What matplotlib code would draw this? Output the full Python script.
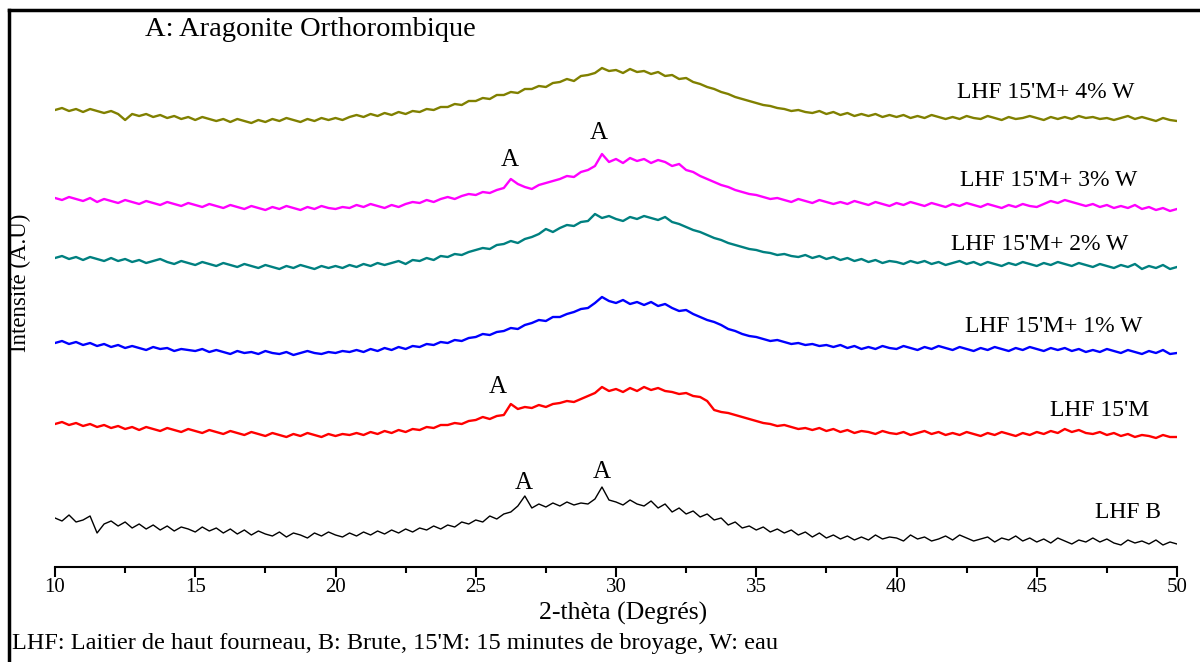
import matplotlib
matplotlib.use("Agg")
import matplotlib.pyplot as plt
from matplotlib.lines import Line2D
from matplotlib.ticker import MultipleLocator
import numpy as np

plt.rcParams['font.family'] = ['Liberation Serif', 'DejaVu Serif']

# 2-theta grid, 0.25 deg steps from 10 to 50
two_theta = np.arange(10, 50.001, 0.25)

# intensities (arbitrary units, already stacked)
olive_4w = [490, 492, 489, 491, 488, 491, 489, 487, 489, 486, 480, 486, 484, 486, 483, 485,
            482, 484, 481, 483, 480, 483, 481, 479, 481, 478, 481, 479, 477, 480, 478, 481,
            479, 482, 480, 478, 481, 479, 482, 480, 482, 480, 483, 485, 483, 486, 484, 487,
            485, 488, 486, 489, 488, 491, 490, 493, 493, 496, 495, 499, 499, 502, 501, 505,
            505, 508, 507, 511, 511, 514, 513, 517, 518, 521, 519, 524, 525, 527, 532, 529,
            530, 527, 531, 528, 529, 526, 528, 524, 525, 521, 522, 518, 516, 513, 511, 508,
            506, 503, 501, 499, 497, 495, 494, 492, 491, 489, 490, 488, 487, 489, 486, 488,
            485, 487, 484, 486, 484, 486, 483, 485, 483, 485, 482, 484, 482, 485, 483, 481,
            483, 481, 484, 482, 481, 484, 482, 480, 483, 481, 482, 484, 482, 480, 483, 481,
            483, 481, 484, 482, 483, 481, 482, 480, 482, 484, 481, 483, 481, 479, 482, 480,
            479]
magenta_3w = [402, 400, 403, 401, 399, 402, 398, 401, 399, 397, 400, 398, 396, 399, 397, 395,
              398, 396, 394, 397, 395, 393, 396, 394, 392, 395, 393, 391, 394, 392, 390, 393,
              391, 394, 392, 390, 393, 391, 394, 392, 391, 393, 392, 395, 393, 396, 394, 392,
              395, 393, 396, 398, 397, 400, 398, 401, 403, 401, 404, 406, 405, 408, 407, 410,
              412, 421, 416, 413, 411, 415, 417, 419, 421, 424, 423, 428, 430, 434, 446, 438,
              441, 437, 442, 439, 441, 437, 440, 438, 434, 436, 430, 428, 424, 421, 418, 415,
              413, 410, 408, 406, 405, 403, 401, 402, 400, 398, 401, 399, 397, 400, 398, 396,
              398, 396, 399, 397, 395, 398, 396, 394, 397, 395, 398, 396, 394, 397, 395, 393,
              396, 394, 397, 395, 393, 396, 394, 392, 395, 393, 396, 394, 393, 396, 399, 397,
              400, 398, 396, 394, 396, 393, 395, 392, 394, 392, 395, 391, 393, 390, 392, 389,
              391]
teal_2w = [342, 344, 341, 343, 340, 343, 341, 339, 342, 339, 341, 338, 340, 337, 339, 341,
           338, 336, 339, 337, 335, 338, 336, 334, 337, 335, 333, 336, 334, 332, 335, 333,
           331, 334, 332, 335, 333, 331, 334, 332, 334, 332, 335, 333, 336, 334, 337, 335,
           337, 339, 336, 340, 339, 342, 340, 344, 343, 346, 345, 348, 350, 352, 351, 355,
           356, 359, 357, 361, 363, 366, 371, 368, 372, 375, 374, 378, 379, 386, 382, 384,
           381, 379, 383, 381, 384, 382, 380, 383, 378, 376, 373, 370, 368, 365, 362, 360,
           357, 355, 353, 351, 350, 348, 347, 345, 346, 344, 343, 345, 342, 344, 341, 343,
           340, 342, 339, 341, 338, 340, 337, 339, 338, 336, 339, 337, 339, 336, 338, 335,
           337, 339, 336, 338, 335, 338, 336, 334, 337, 335, 338, 336, 334, 337, 335, 338,
           336, 334, 337, 335, 333, 336, 334, 332, 335, 333, 336, 331, 334, 332, 335, 331,
           333]
blue_1w = [257, 259, 256, 258, 255, 257, 254, 256, 253, 255, 252, 254, 252, 250, 253, 251,
           252, 249, 251, 250, 249, 251, 248, 250, 248, 246, 249, 247, 248, 246, 249, 247,
           246, 248, 245, 247, 249, 247, 246, 248, 247, 249, 248, 250, 248, 251, 249, 252,
           250, 253, 251, 254, 253, 256, 255, 258, 257, 260, 259, 262, 263, 266, 265, 268,
           269, 272, 271, 275, 277, 280, 279, 283, 283, 286, 288, 291, 292, 297, 303, 299,
           297, 300, 296, 298, 295, 298, 294, 296, 292, 289, 290, 286, 283, 280, 278, 275,
           271, 269, 266, 264, 263, 261, 259, 260, 258, 256, 257, 255, 256, 254, 255, 253,
           255, 252, 254, 251, 253, 251, 254, 252, 251, 254, 252, 250, 253, 251, 254, 252,
           250, 253, 251, 249, 252, 250, 253, 251, 249, 252, 250, 253, 251, 249, 252, 250,
           252, 249, 251, 248, 250, 248, 251, 249, 247, 250, 248, 246, 249, 247, 250, 246,
           247]
red_15m = [176, 178, 175, 177, 174, 176, 173, 175, 172, 174, 171, 173, 170, 173, 171, 169,
           172, 170, 168, 171, 169, 167, 170, 168, 166, 169, 167, 165, 168, 166, 164, 167,
           165, 163, 166, 164, 167, 165, 163, 166, 164, 166, 165, 167, 165, 168, 166, 169,
           167, 170, 168, 171, 170, 173, 172, 175, 175, 177, 176, 179, 180, 183, 181, 184,
           185, 196, 191, 193, 192, 195, 193, 196, 197, 199, 198, 201, 204, 207, 213, 209,
           211, 208, 212, 209, 213, 210, 212, 209, 208, 206, 207, 204, 203, 199, 190, 188,
           187, 185, 183, 181, 179, 177, 176, 174, 175, 173, 171, 172, 170, 172, 169, 171,
           168, 170, 167, 169, 168, 166, 169, 167, 166, 168, 165, 167, 169, 166, 168, 165,
           167, 165, 168, 166, 164, 167, 165, 168, 166, 164, 167, 165, 168, 166, 169, 167,
           171, 168, 170, 167, 166, 168, 165, 167, 164, 166, 163, 165, 164, 162, 165, 163,
           163]
black_b = [82, 79, 85, 78, 80, 84, 67, 76, 79, 74, 78, 72, 76, 71, 75, 70,
           74, 69, 73, 71, 68, 73, 69, 72, 67, 71, 66, 70, 65, 69, 66, 64,
           68, 63, 67, 65, 62, 67, 64, 68, 65, 63, 67, 64, 68, 65, 69, 66,
           70, 67, 71, 68, 72, 70, 74, 71, 75, 73, 78, 76, 80, 78, 84, 81,
           86, 88, 94, 104, 92, 96, 93, 97, 94, 98, 95, 97, 96, 101, 113, 100,
           98, 95, 100, 96, 94, 99, 92, 96, 88, 92, 86, 89, 83, 86, 80, 82,
           75, 78, 72, 74, 70, 73, 68, 71, 67, 70, 65, 68, 63, 67, 62, 65,
           61, 64, 60, 63, 60, 65, 61, 63, 62, 59, 65, 61, 63, 59, 61, 64,
           60, 65, 62, 59, 61, 63, 58, 62, 60, 64, 59, 62, 58, 61, 57, 62,
           59, 56, 60, 58, 62, 58, 61, 57, 55, 60, 57, 59, 56, 60, 55, 58,
           56]

series_names = ["LHF 15'M+ 4% W", "LHF 15'M+ 3% W", "LHF 15'M+ 2% W",
                "LHF 15'M+ 1% W", "LHF 15'M", "LHF B"]
series_data = [olive_4w, magenta_3w, teal_2w, blue_1w, red_15m, black_b]
series_colors = ['#808000', '#FF00FF', '#008080', '#0000FF', '#FF0000', '#000000']

fig = plt.figure(figsize=(12, 6.62), dpi=100)
ax = fig.add_axes([55 / 1200, 1 - 567 / 662, (1177 - 55) / 1200, (567 - 11) / 662])

for name, ys, col in zip(series_names, series_data, series_colors):
    lw = 1.0 if col == '#000000' else 1.7
    ax.plot(two_theta, ys, color=col, lw=lw)

ax.set_xlim(10, 50)
ax.set_ylim(33, 589)

# curve labels on the right
label_pos = [(1046, 507), (1049, 420), (1040, 356), (1054, 273), (1100, 190), (1128, 87)]
for name, (px, yv) in zip(series_names, label_pos):
    xv = 10 + (px - 55) / 28.05
    ax.text(xv, yv, name, ha='center', va='center', fontsize=17)

# aragonite peaks
a_marks = [(26.2, 440), (29.4, 467), (25.8, 213), (26.7, 117), (29.5, 128)]
for xv, yv in a_marks:
    ax.text(xv, yv, 'A', ha='center', va='center', fontsize=18)

ax.text(10 + (145 - 55) / 28.05, 570, 'A: Aragonite Orthorombique',
        ha='left', va='center', fontsize=20.5)

for s in ['top', 'right', 'left']:
    ax.spines[s].set_visible(False)
ax.spines['bottom'].set_linewidth(1.5)
ax.set_yticks([])
ax.xaxis.set_major_locator(MultipleLocator(5))
ax.xaxis.set_minor_locator(MultipleLocator(2.5))
ax.tick_params(axis='x', which='major', direction='out', length=7, width=1.5,
               labelsize=15, pad=1)
ax.tick_params(axis='x', which='minor', direction='out', length=4, width=1.5)
ax.set_xlabel('2-thèta (Degrés)', fontsize=18.5, va='center')
ax.xaxis.set_label_coords(623 / 1200, 1 - 613 / 662, transform=fig.transFigure)

fig.text(20 / 1200, 1 - 283 / 662, 'Intensité (A.U)', rotation=90,
         ha='center', va='center', fontsize=16.5)
fig.text(12 / 1200, 1 - 643 / 662,
         "LHF: Laitier de haut fourneau, B: Brute, 15'M: 15 minutes de broyage, W: eau",
         ha='left', va='center', fontsize=17.5)

# outer frame (left and top edges)
fig.add_artist(Line2D([9 / 1200, 9 / 1200], [0, 1 - 10 / 662], color='black', lw=2.5,
                      transform=fig.transFigure))
fig.add_artist(Line2D([9 / 1200, 1], [1 - 10 / 662, 1 - 10 / 662], color='black', lw=2.5,
                      transform=fig.transFigure))

fig.savefig('out.png', dpi=100)
